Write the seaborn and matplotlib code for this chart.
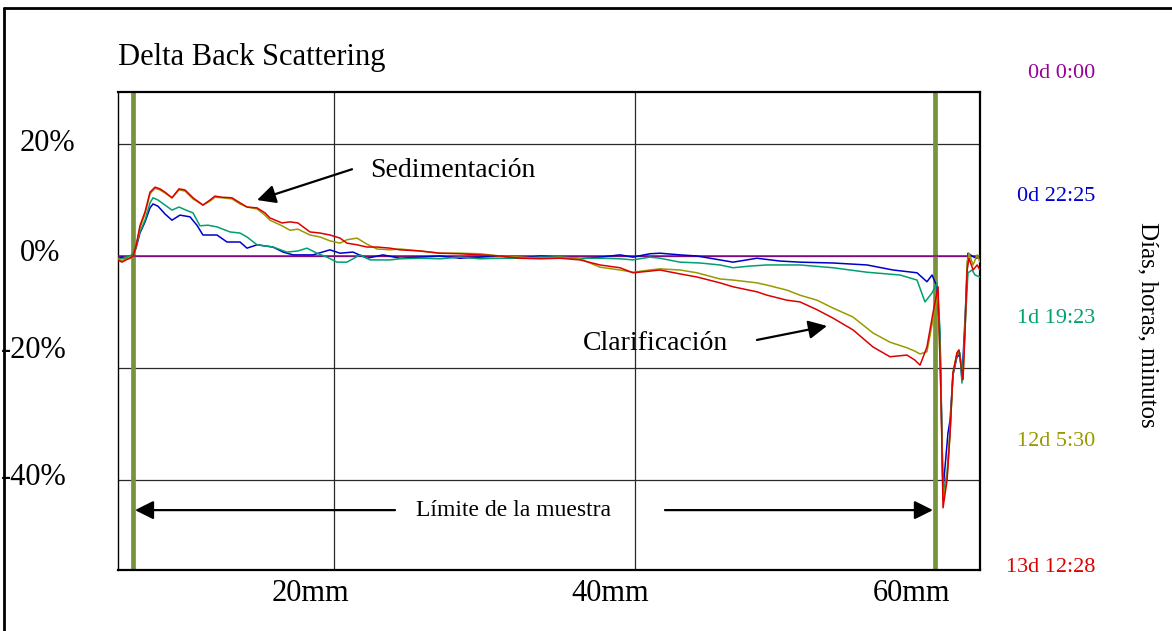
import numpy as np
import pandas as pd
import matplotlib
matplotlib.use("Agg")
import matplotlib.pyplot as plt
import matplotlib.transforms as mtransforms
from matplotlib.lines import Line2D
import seaborn as sns

sns.set_style("white")
plt.rcParams['font.family'] = ['Liberation Serif', 'DejaVu Serif']
plt.rcParams['text.color'] = 'black'
plt.rcParams['xtick.color'] = 'black'
plt.rcParams['ytick.color'] = 'black'
plt.rcParams['xtick.labelcolor'] = 'black'

# ---------------- data (x in mm, y in %) ----------------
series_names = ["0d 0:00", "0d 22:25", "1d 19:23", "12d 5:30", "13d 12:28"]
series_colors = ["#990099", "#0000CC", "#00A070", "#999900", "#DD0000"]

purple_x = [5.63, 62.98]
purple_y = [0.0, 0.0]

red_x = [5.63, 5.89, 6.16, 6.43, 6.63, 6.83, 7.09, 7.43, 7.76, 8.09, 8.42, 8.76, 9.22, 9.69,
         10.09, 10.62, 11.28, 11.75, 12.08, 12.55, 13.21, 13.75, 14.21, 14.88, 15.41, 15.74,
         16.54, 17.07, 17.60, 18.40, 19.07, 19.73, 20.40, 20.86, 21.53, 22.20, 22.86, 23.73,
         24.39, 25.72, 27.05, 28.38, 29.71, 31.04, 32.38, 33.71, 35.04, 36.37, 37.70, 39.03,
         39.89, 41.02, 41.69, 43.02, 44.15, 45.68, 46.55, 48.14, 48.81, 50.14, 51.00, 52.14,
         53.20, 54.53, 55.86, 56.99, 58.12, 58.65, 58.99, 59.45, 59.85, 60.19, 60.39, 60.52,
         60.79, 60.99, 61.18, 61.45, 61.58, 61.85, 61.98, 62.12, 62.25, 62.52, 62.79, 62.98]
red_y = [-0.7, -1.1, -0.7, -0.4, 0.0, 1.8, 5.4, 7.9, 11.4, 12.3, 12.0, 11.4, 10.4, 12.0,
         11.8, 10.4, 9.1, 10.0, 10.7, 10.5, 10.4, 9.5, 8.75, 8.6, 7.7, 6.8,
         5.9, 6.1, 5.9, 4.3, 4.1, 3.75, 3.2, 2.3, 2.0, 1.6, 1.6, 1.4,
         1.1, 0.9, 0.5, 0.4, 0.2, 0.0, -0.4, -0.5, -0.4, -0.7, -1.6, -2.1,
         -3.0, -2.7, -2.5, -3.2, -3.75, -4.8, -5.5, -6.4, -7.0, -7.9, -8.2, -9.6,
         -11.1, -13.2, -16.25, -18.0, -17.7, -18.6, -19.5, -16.25, -10.2, -5.5, -25.7, -45.0,
         -40.0, -31.6, -20.9, -17.3, -16.8, -22.1, -13.75, -2.5, -0.4, -2.5, -1.6, -2.5]

olive_x = red_x
olive_y = [-0.5, -0.9, -0.5, -0.2, 0.0, 1.6, 5.0, 7.5, 11.1, 12.1, 11.8, 11.25, 10.4, 11.8,
           11.6, 10.2, 9.1, 9.8, 10.5, 10.4, 10.2, 9.3, 8.75, 8.4, 7.3, 6.4,
           5.4, 4.6, 4.8, 3.75, 3.4, 2.7, 2.3, 2.9, 3.2, 2.1, 1.25, 1.1,
           1.25, 0.9, 0.5, 0.5, 0.4, 0.0, -0.2, -0.4, -0.2, -0.5, -2.0, -2.5,
           -2.9, -2.5, -2.3, -2.5, -3.0, -4.1, -4.3, -4.8, -5.2, -6.1, -7.0, -7.9,
           -9.3, -10.9, -13.75, -15.4, -16.4, -17.0, -17.5, -17.1, -11.4, -7.0, -25.7, -43.6,
           -39.6, -31.6, -20.9, -17.3, -16.8, -21.8, -13.2, -1.1, 0.5, -1.6, 0.2, -1.1]

green_x = [5.63, 5.89, 6.16, 6.43, 6.63, 6.83, 7.09, 7.43, 7.76, 7.96, 8.29, 8.76, 9.22, 9.69,
           10.15, 10.62, 11.08, 11.62, 12.22, 13.08, 13.75, 14.21, 14.88, 15.41, 15.94, 16.87,
           17.60, 18.20, 18.87, 19.53, 20.20, 20.86, 21.73, 22.40, 23.06, 23.73, 24.39, 25.72,
           27.05, 28.38, 29.71, 31.04, 32.38, 33.71, 35.04, 36.37, 37.70, 39.03, 39.89, 41.02,
           41.69, 43.02, 44.35, 45.68, 46.55, 47.68, 48.81, 51.00, 53.20, 55.46, 57.66, 58.79,
           59.32, 59.79, 60.12, 60.32, 60.52, 60.79, 60.99, 61.18, 61.45, 61.65, 61.78, 61.98,
           62.18, 62.45, 62.65, 62.98]
green_y = [-0.4, -0.5, -0.2, 0.0, 0.4, 2.0, 4.3, 6.4, 9.5, 10.4, 10.0, 9.1, 8.2, 8.75,
           8.2, 7.7, 5.4, 5.5, 5.2, 4.3, 4.1, 3.4, 2.0, 1.8, 1.6, 0.7,
           0.9, 1.4, 0.5, -0.2, -1.1, -1.1, 0.2, -0.7, -0.7, -0.7, -0.5, -0.4,
           -0.5, -0.2, -0.5, -0.4, -0.4, -0.2, -0.2, -0.4, -0.4, -0.5, -0.7, -0.2,
           -0.4, -1.1, -1.25, -1.6, -2.1, -1.8, -1.6, -1.6, -2.1, -2.9, -3.4, -4.3,
           -8.2, -6.6, -4.8, -13.2, -42.7, -38.6, -31.1, -21.25, -17.7, -17.3, -22.7, -13.2,
           -3.0, -2.5, -3.4, -3.75]

blue_x = [5.63, 5.89, 6.16, 6.43, 6.63, 6.83, 7.09, 7.43, 7.76, 7.96, 8.29, 8.76, 9.22, 9.75,
          10.42, 10.88, 11.28, 12.22, 12.88, 13.75, 14.21, 14.88, 15.94, 16.61, 17.27, 18.60,
          19.73, 20.40, 21.26, 22.20, 23.26, 24.39, 25.72, 27.05, 28.38, 29.71, 31.04, 32.38,
          33.71, 35.04, 36.37, 37.70, 39.03, 39.89, 41.02, 41.69, 43.02, 44.15, 45.68, 46.55,
          48.14, 49.67, 51.00, 53.20, 55.46, 57.19, 58.79, 59.45, 59.79, 60.12, 60.32, 60.52,
          60.85, 60.99, 61.18, 61.45, 61.65, 61.78, 61.98, 62.18, 62.45, 62.72, 62.98]
blue_y = [-0.4, -0.2, -0.4, 0.0, 0.2, 1.4, 4.1, 6.1, 8.6, 9.3, 8.9, 7.5, 6.4, 7.3,
          7.0, 5.5, 3.75, 3.75, 2.5, 2.5, 1.4, 2.0, 1.6, 0.7, 0.2, 0.2,
          1.1, 0.5, 0.7, -0.4, 0.2, -0.4, -0.2, 0.0, -0.4, -0.2, 0.0, -0.4,
          0.0, -0.2, -0.5, -0.2, 0.2, -0.2, 0.4, 0.5, 0.2, 0.0, -0.7, -1.1,
          -0.4, -0.9, -1.1, -1.25, -1.6, -2.5, -3.0, -4.6, -3.4, -5.5, -15.0, -41.8,
          -31.6, -29.3, -21.25, -18.0, -17.7, -22.1, -11.4, 0.5, 0.0, -0.4, -0.2]

sample_limits = [6.63, 60.0]
xtick_vals = [20, 40, 60]
xtick_labels = ["20mm", "40mm", "60mm"]
ytick_vals = [20, 0, -20, -40]
ytick_labels = ["20%", "0%", "-20%", "-40%"]

# ---------------- figure ----------------
W, H = 1172, 631
fig = plt.figure(figsize=(W / 100, H / 100), dpi=100)
ax = fig.add_axes([118 / W, 1 - 570 / H, (980 - 118) / W, (570 - 92) / H])

def fx(px):
    return px / W

def fy(py):
    return 1 - py / H

all_series = [(purple_x, purple_y), (blue_x, blue_y), (green_x, green_y),
              (olive_x, olive_y), (red_x, red_y)]
for (xs, ys), col in zip(all_series, series_colors):
    df = pd.DataFrame({"mm": xs, "pct": ys})
    sns.lineplot(data=df, x="mm", y="pct", color=col, lw=1.1, ax=ax,
                 sort=False, estimator=None, legend=False, zorder=3)

for xv in sample_limits:
    ax.axvline(xv, color="#77933C", lw=3.4, zorder=2.5)

ax.set_xlim(5.63, 62.98)
ax.set_ylim(-56.1, 29.3)
ax.set_xlabel("")
ax.set_ylabel("")
ax.set_xticks(xtick_vals)
ax.set_xticklabels(xtick_labels, fontsize=22, color="black")
ax.set_yticks(ytick_vals)
ax.set_yticklabels([])
ax.tick_params(axis="both", length=0)
ax.tick_params(axis="x", pad=6.5)
shift = mtransforms.ScaledTranslation(-24 / 100, 0, fig.dpi_scale_trans)
for lab in ax.get_xticklabels():
    lab.set_transform(lab.get_transform() + shift)

ax.grid(True, color="#2a2a2a", lw=0.9)
ax.set_axisbelow(True)
for side, lw in [("top", 1.6), ("right", 1.6), ("bottom", 1.6), ("left", 1.0)]:
    ax.spines[side].set_color("black")
    ax.spines[side].set_linewidth(lw)

# y labels (manual placement like the original)
ylab_left = [20, 20, 1, 1]
ylab_dy = [4, 5, 20, 5]
blend = mtransforms.blended_transform_factory(fig.transFigure, ax.transData)
for val, txt, lx, dy in zip(ytick_vals, ytick_labels, ylab_left, ylab_dy):
    off = mtransforms.ScaledTranslation(0, (dy - 3) / 100, fig.dpi_scale_trans)
    ax.text(fx(lx), val, txt, transform=blend + off, ha="left", va="center",
            fontsize=22, color="black", clip_on=False)

# title
fig.text(fx(118), fy(58), "Delta Back Scattering", ha="left", va="center",
         fontsize=22, color="black")

# right-hand time labels
label_y = [72, 194, 317, 440, 565]
for name, col, yy in zip(series_names, series_colors, label_y):
    fig.text(fx(1095), fy(yy + 2), name, ha="right", va="center", fontsize=16, color=col)
fig.text(fx(1148), fy(325), "Días, horas, minutos", rotation=-90, ha="center",
         va="center", fontsize=18, color="black")

# annotations
arrow_kw = dict(arrowstyle="-|>", mutation_scale=28, lw=1.6, color="black",
                shrinkA=0, shrinkB=0)
ax.annotate("", xy=(14.88, 10.0), xytext=(21.2, 15.5), arrowprops=arrow_kw)
ax.text(22.4, 15.2, "Sedimentación", ha="left", va="center", fontsize=20, color="black")
ax.annotate("", xy=(52.8, -12.5), xytext=(48.14, -15.0), arrowprops=arrow_kw)
ax.text(36.57, -15.7, "Clarificación", ha="left", va="center", fontsize=20, color="black")
ax.annotate("", xy=(6.76, -45.4), xytext=(24.06, -45.4), arrowprops=arrow_kw)
ax.annotate("", xy=(59.85, -45.4), xytext=(42.02, -45.4), arrowprops=arrow_kw)
ax.text(31.91, -45.5, "Límite de la muestra", ha="center", va="center", fontsize=17,
        color="black")

# outer frame (left and top only visible)
fig.add_artist(Line2D([fx(4), fx(4)], [0, fy(8)], transform=fig.transFigure,
                      color="black", lw=2))
fig.add_artist(Line2D([fx(4), 1], [fy(8), fy(8)], transform=fig.transFigure,
                      color="black", lw=2))

fig.savefig("out.png", dpi=100)
